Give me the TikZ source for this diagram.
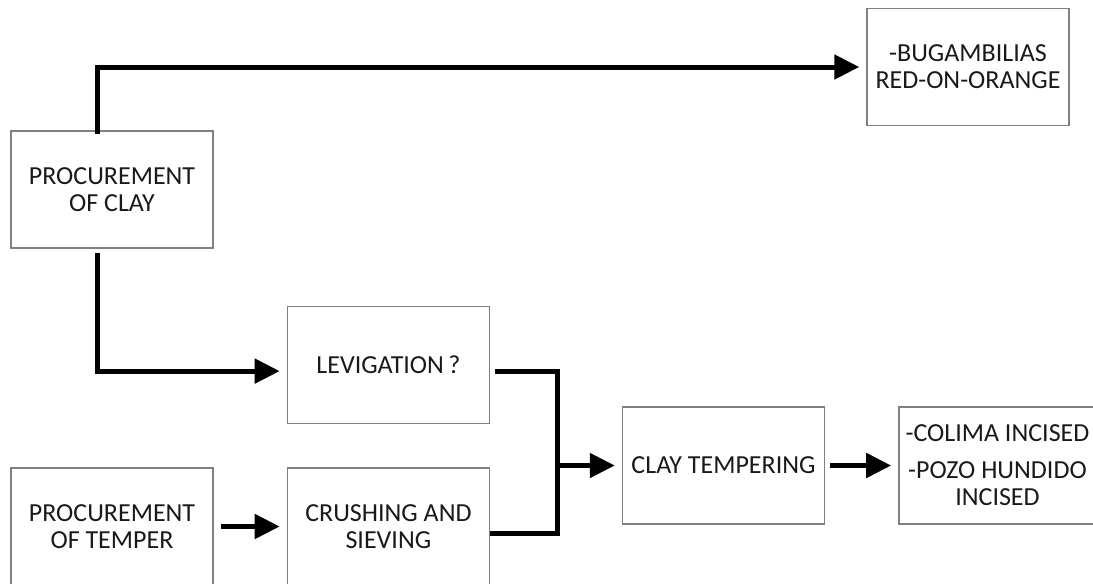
\documentclass[tikz,border=0pt]{standalone}
\usepackage{fontspec}
\setmainfont{Carlito}
\usetikzlibrary{positioning,arrows.meta}

\begin{document}
\begin{tikzpicture}[x=0.5pt,y=-0.5pt,
    box/.style = {draw=black!50, line width=0.7pt, minimum width=101pt, minimum height=58.5pt,
                  align=center, text=black!90, font=\fontsize{13}{13.5}\selectfont},
    line/.style = {line width=2.5pt, line join=miter},
    arr/.style = {line, -{Triangle[length=12.5pt,width=12pt]}, shorten >=3.5pt, shorten <=2.5pt}]
    \useasboundingbox (0,0) rectangle (1093,584);
    \node[box] (clay) at (112,189.5) {PROCUREMENT\\OF CLAY};
    \node[box] (temper) at (112,526.5) {PROCUREMENT\\OF TEMPER};
    \node[box] (crush) [right=36.5pt of temper] {CRUSHING AND\\SIEVING};
    \node[box] (lev) [above=21.5pt of crush] {LEVIGATION\,?};
    \node[box] (temp) at (723.5,465.5) {CLAY TEMPERING};
    \node[box, minimum width=96.5pt] (colima) [right=36.5pt of temp] {-COLIMA INCISED\\[5pt]-POZO HUNDIDO\\INCISED};
    \node[box] (bug) at (968,67) {-BUGAMBILIAS\\RED-ON-ORANGE};
    \coordinate (join) at (557,465.5);
    \draw[arr, shorten <=-2pt] ([xshift=-7.5pt]clay.north) |- (bug.west);
    \draw[arr, shorten <=2pt] ([xshift=-7.5pt]clay.south) |- ([yshift=-3pt]lev.west);
    \draw[line, shorten <=2.5pt] ([yshift=-3pt]lev.east) -| (join) |- ([yshift=-3.5pt]crush.east);
    \draw[arr, shorten <=0pt] (join) -- (temp.west);
    \draw[arr] (temp) -- (colima);
    \draw[arr, shorten <=3.5pt] (temper) -- (crush);
\end{tikzpicture}
\end{document}
